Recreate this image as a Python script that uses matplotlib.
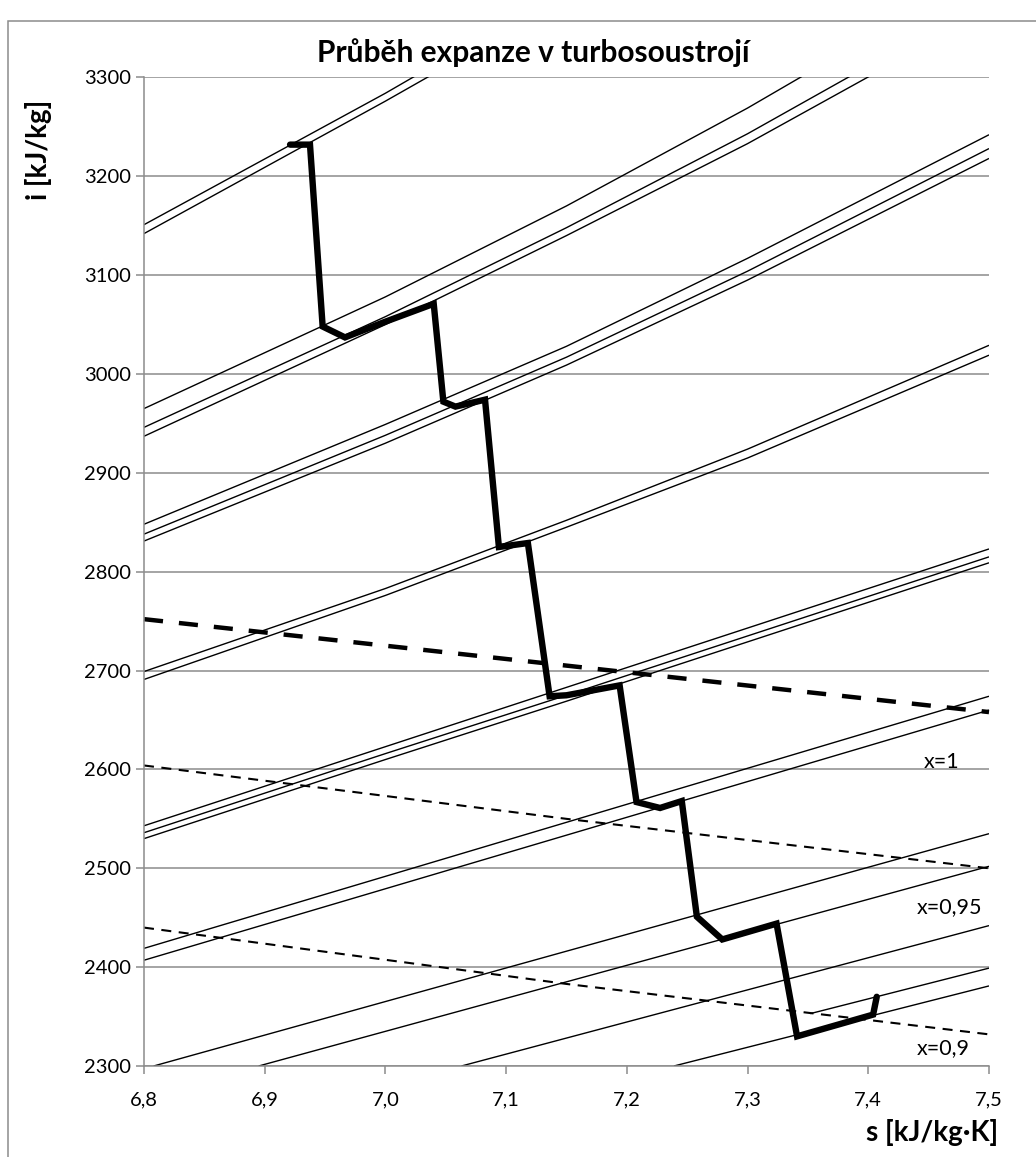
import matplotlib
matplotlib.use("Agg")
import matplotlib.pyplot as plt
from matplotlib.patches import Rectangle

plt.rcParams['font.family'] = ['Lato', 'DejaVu Sans']

# ---------------- data ----------------
TITLE = "Průběh expanze v turbosoustrojí"
X_LABEL = "s [kJ/kg·K]"
Y_LABEL = "i [kJ/kg]"

X_TICKS = [6.8, 6.9, 7.0, 7.1, 7.2, 7.3, 7.4, 7.5]
X_TICK_LABELS = ["6,8", "6,9", "7,0", "7,1", "7,2", "7,3", "7,4", "7,5"]
Y_TICKS = [2300, 2400, 2500, 2600, 2700, 2800, 2900, 3000, 3100, 3200, 3300]

# entropy grid at which the curved isobars were read
S_GRID = [6.8, 7.0, 7.15, 7.3, 7.5]

# superheated isobars (enthalpy at S_GRID), values beyond the axes are clipped
A1 = [3151, 3284, 3390, 3500, 3650]
A2 = [3142, 3276, 3380, 3487, 3630]
B1 = [2965, 3078, 3170, 3269, 3411]
B2 = [2946, 3058, 3148, 3243, 3380]
B3 = [2937, 3050, 3140, 3233, 3368]
C1 = [2848, 2949, 3028, 3117, 3242]
C2 = [2838, 2938, 3017, 3104, 3228]
C3 = [2831, 2930, 3009, 3095, 3218]
D1 = [2699, 2783, 2852, 2924, 3029]
D2 = [2691, 2776, 2845, 2915, 3019]
E1 = [2543, 2623, 2683, 2743, 2823]
E2 = [2536, 2616, 2675, 2735, 2815]
E3 = [2530, 2610, 2669, 2729, 2809]

# wet-steam isobars (straight), given by end points (s, i)
F1_S, F1_I = [6.8, 7.5], [2419, 2674]
F2_S, F2_I = [6.8, 7.5], [2407, 2660]
G1_S, G1_I = [6.808, 7.5], [2300, 2535]
G2_S, G2_I = [6.895, 7.5], [2300, 2502]
G3_S, G3_I = [7.063, 7.5], [2300, 2442]
G4_S, G4_I = [7.352, 7.5], [2353, 2399]
G5_S, G5_I = [7.239, 7.5], [2300, 2381]

# constant dryness lines
X_LINE_S = [6.8, 7.15, 7.5]
X1_I = [2752, 2705, 2658]
X095_I = [2604, 2550, 2500]
X09_I = [2440, 2383, 2332]
X_LABELS = ["x=1", "x=0,95", "x=0,9"]

# expansion path in the turbine
EXP_S = [6.921, 6.9375, 6.948, 6.9665, 6.998, 7.040, 7.048, 7.058, 7.0825,
         7.094, 7.118, 7.136, 7.150, 7.194, 7.208, 7.2275, 7.2455, 7.258,
         7.279, 7.324, 7.341, 7.404, 7.407]
EXP_I = [3232, 3232, 3048, 3037, 3052, 3071, 2972, 2967, 2974,
         2825, 2829, 2674, 2675, 2685, 2567, 2561, 2568, 2451,
         2428, 2444, 2330, 2352, 2370]

# ---------------- figure ----------------
W, H = 1036, 1157
fig = plt.figure(figsize=(W / 100, H / 100), dpi=100)
ax = fig.add_axes([144 / W, 1 - 1066 / H, 845 / W, 988.6 / H])

GRID = '#8c8c8c'
ax.set_xlim(6.8, 7.5)
ax.set_ylim(2300, 3300)
ax.set_xticks(X_TICKS)
ax.set_xticklabels(X_TICK_LABELS)
ax.set_yticks(Y_TICKS)
ax.yaxis.grid(True, color=GRID, lw=1.1)
ax.set_axisbelow(True)
for sp in ['top', 'right']:
    ax.spines[sp].set_visible(False)
for sp in ['left', 'bottom']:
    ax.spines[sp].set_color(GRID)
    ax.spines[sp].set_linewidth(1.1)
ax.tick_params(axis='both', direction='out', color=GRID, width=1.1,
               length=5.5, labelsize=14.5, labelcolor='black')
ax.tick_params(axis='x', pad=13)
ax.tick_params(axis='y', pad=4)

thin = dict(color='black', lw=1.0, solid_capstyle='butt')
for line in [A1, A2, B1, B2, B3, C1, C2, C3, D1, D2, E1, E2, E3]:
    ax.plot(S_GRID, line, **thin)
for s, i in [(F1_S, F1_I), (F2_S, F2_I), (G1_S, G1_I), (G2_S, G2_I),
             (G3_S, G3_I), (G4_S, G4_I), (G5_S, G5_I)]:
    ax.plot(s, i, **thin)

ax.plot(X_LINE_S, X1_I, color='black', lw=3.2, dashes=(4.3, 3.6),
        dash_capstyle='butt', clip_on=False)
ax.plot(X_LINE_S, X095_I, color='black', lw=1.5, dashes=(4.8, 3.6),
        dash_capstyle='butt')
ax.plot(X_LINE_S, X09_I, color='black', lw=1.5, dashes=(4.8, 3.6),
        dash_capstyle='butt')

ax.plot(EXP_S, EXP_I, color='black', lw=4.6, solid_joinstyle='miter',
        solid_capstyle='round', zorder=5)

ax.text(7.4603, 2607, X_LABELS[0], ha='center', va='center', fontsize=15.5)
ax.text(7.4676, 2461, X_LABELS[1], ha='center', va='center', fontsize=15.5)
ax.text(7.4624, 2318, X_LABELS[2], ha='center', va='center', fontsize=15.5)

fig.text(533 / W, 1 - 53 / H, TITLE, ha='center', va='center',
         fontsize=21.5, fontweight='bold')
fig.text(38 / W, 1 - 150 / H, Y_LABEL, ha='center', va='center',
         rotation=90, fontsize=20, fontweight='bold')
fig.text(998 / W, 1 - 1133 / H, X_LABEL, ha='right', va='center',
         fontsize=20, fontweight='bold')

fig.patches.append(Rectangle((8 / W, -0.1), 1.2, 1 - 21 / H + 0.1,
                             transform=fig.transFigure, fill=False,
                             edgecolor=GRID, lw=1.1))

fig.savefig('out.png', dpi=100)
